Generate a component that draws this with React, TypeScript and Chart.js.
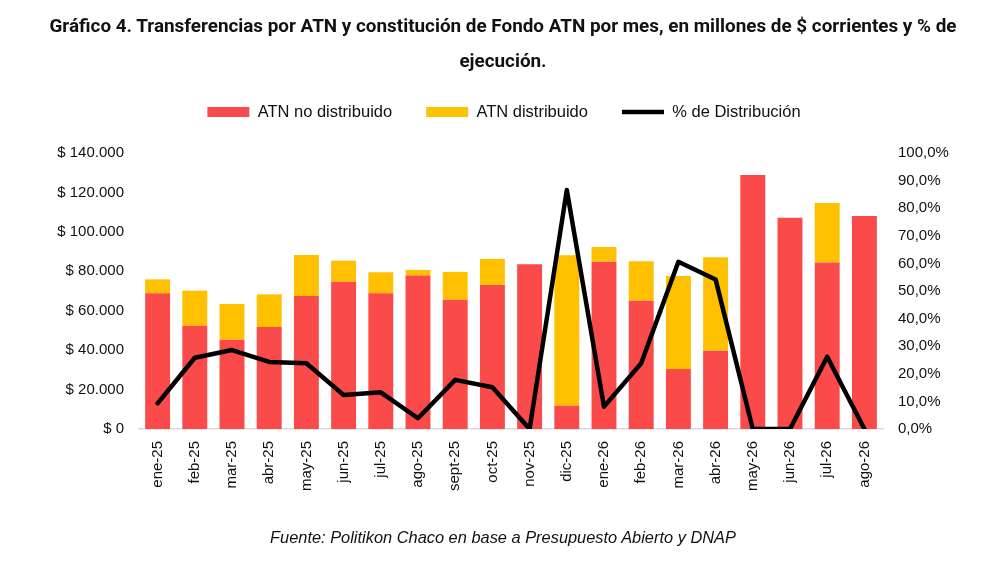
import React, { useEffect, useRef } from "react";
import { Chart, registerables } from "chart.js";

Chart.register(...registerables);

const months = [
  "ene-25", "feb-25", "mar-25", "abr-25", "may-25", "jun-25", "jul-25", "ago-25",
  "sept-25", "oct-25", "nov-25", "dic-25", "ene-26", "feb-26", "mar-26", "abr-26",
  "may-26", "jun-26", "jul-26", "ago-26",
];

const atnNoDistribuido = [
  68800, 52400, 45300, 51700, 67500, 74700, 68800, 77800, 65600, 73100,
  83600, 11800, 84900, 65100, 30400, 39700, 128900, 107200, 84400, 108100,
];

const atnDistribuido = [
  7100, 17800, 18100, 16600, 20800, 10700, 10700, 2900, 14100, 13200,
  0, 76300, 7400, 20000, 47200, 47400, 0, 0, 30300, 0,
];

const pctDistribucion = [
  9.3, 25.8, 28.6, 24.3, 23.8, 12.3, 13.3, 3.9, 17.8, 15.1,
  0, 86.6, 8.1, 23.8, 60.6, 54.2, 0, 0, 26.2, 0,
];

const titleLines = [
  "Gráfico 4. Transferencias por ATN y constitución de Fondo ATN por mes, en millones de $ corrientes y % de",
  "ejecución.",
];
const sourceText = "Fuente: Politikon Chaco en base a Presupuesto Abierto y DNAP";

const RED = "#FB4A4A";
const YELLOW = "#FFC000";
const FONT = "'Liberation Sans', Arial, sans-serif";
const TITLE_WIDTH = 907;

const fmtMoney = (v: number) =>
  "$ " + String(Math.round(v)).replace(/\B(?=(\d{3})+(?!\d))/g, ".");
const fmtPct = (v: number) => v.toFixed(1).replace(".", ",") + "%";

export default function App() {
  const ref = useRef<HTMLCanvasElement | null>(null);
  const titleRef = useRef<HTMLSpanElement | null>(null);
  const titleBoxRef = useRef<HTMLDivElement | null>(null);

  useEffect(() => {
    if (titleRef.current && titleBoxRef.current) {
      const w = titleRef.current.getBoundingClientRect().width;
      if (w > 0) {
        titleBoxRef.current.style.transform = `scaleX(${TITLE_WIDTH / w})`;
      }
    }
    if (!ref.current) return;
    const chart = new Chart(ref.current, {
      type: "bar",
      data: {
        labels: months,
        datasets: [
          {
            type: "bar",
            label: "ATN no distribuido",
            data: atnNoDistribuido,
            backgroundColor: RED,
            borderWidth: 0,
            yAxisID: "y",
            stack: "s",
            order: 2,
            pointStyle: "rect",
            barPercentage: 0.67,
            categoryPercentage: 1,
          },
          {
            type: "bar",
            label: "ATN distribuido",
            data: atnDistribuido,
            backgroundColor: YELLOW,
            borderWidth: 0,
            yAxisID: "y",
            stack: "s",
            order: 2,
            pointStyle: "rect",
            barPercentage: 0.67,
            categoryPercentage: 1,
          },
          {
            type: "line",
            label: "% de Distribución",
            data: pctDistribucion,
            borderColor: "#000",
            backgroundColor: "#000",
            borderWidth: 4.5,
            borderJoinStyle: "round",
            borderCapStyle: "round",
            pointRadius: 0,
            pointHoverRadius: 0,
            pointStyle: "line",
            tension: 0,
            yAxisID: "y1",
            order: 0,
          } as any,
        ],
      },
      options: {
        animation: false,
        responsive: false,
        maintainAspectRatio: false,
        layout: { padding: { top: 69.75, left: 0, right: 0, bottom: 0 } },
        plugins: {
          legend: {
            display: true,
            position: "top",
            labels: {
              usePointStyle: true,
              pointStyleWidth: 42,
              boxHeight: 10,
              padding: 34,
              color: "#111",
              font: { family: FONT, size: 16.5 },
              sort: (a: any, b: any) => a.datasetIndex - b.datasetIndex,
            },
          },
          subtitle: {
            display: true,
            text: "",
            position: "top",
            weight: 500,
            font: { size: 10, lineHeight: 1 },
            padding: { top: 0, bottom: 12.75 },
          } as any,
          title: { display: false },
          tooltip: { enabled: false },
        },
        scales: {
          x: {
            stacked: true,
            grid: { display: false, drawTicks: false },
            border: { display: true, color: "#D9D9D9", width: 1.5 },
            ticks: {
              autoSkip: false,
              minRotation: 90,
              maxRotation: 90,
              padding: 12,
              color: "#111",
              font: { family: FONT, size: 15 },
            },
            afterFit: (s: any) => {
              s.height = 138;
            },
          },
          y: {
            type: "linear",
            position: "left",
            stacked: true,
            min: 0,
            max: 140000,
            grid: { display: false, drawTicks: false },
            border: { display: false },
            ticks: {
              stepSize: 20000,
              padding: 15,
              color: "#111",
              font: { family: FONT, size: 15 },
              callback: (v: any) => fmtMoney(Number(v)),
            },
            afterFit: (s: any) => {
              s.width = 139;
            },
          },
          y1: {
            type: "linear",
            position: "right",
            stacked: false,
            min: 0,
            max: 100,
            grid: { display: false, drawTicks: false },
            border: { display: false },
            ticks: {
              stepSize: 10,
              padding: 15,
              color: "#111",
              font: { family: FONT, size: 15 },
              callback: (v: any) => fmtPct(Number(v)),
            },
            afterFit: (s: any) => {
              s.width = 125;
            },
          },
        },
      },
    });
    return () => chart.destroy();
  }, []);

  return (
    <div
      style={{
        position: "absolute",
        left: 0,
        top: 0,
        width: 1008,
        height: 567,
        background: "#fff",
        overflow: "hidden",
      }}
    >
      <canvas
        ref={ref}
        width={1008}
        height={567}
        style={{ position: "absolute", left: 0, top: 0, width: 1008, height: 567 }}
      />
      <div
        ref={titleBoxRef}
        style={{
          position: "absolute",
          left: 0,
          top: 7.5,
          width: 1006,
          textAlign: "center",
          fontFamily: "Roboto, 'Liberation Sans', sans-serif",
          fontWeight: "bold",
          fontSize: 19,
          lineHeight: "35px",
          color: "#111",
          whiteSpace: "nowrap",
          transformOrigin: "503px 0",
        }}
      >
        <span ref={titleRef}>{titleLines[0]}</span>
        <br />
        <span>{titleLines[1]}</span>
      </div>
      <div
        style={{
          position: "absolute",
          left: 0,
          top: 527,
          width: 1006,
          textAlign: "center",
          fontFamily: FONT,
          fontStyle: "italic",
          fontSize: 16.4,
          lineHeight: "20px",
          color: "#111",
          whiteSpace: "nowrap",
        }}
      >
        {sourceText}
      </div>
    </div>
  );
}
